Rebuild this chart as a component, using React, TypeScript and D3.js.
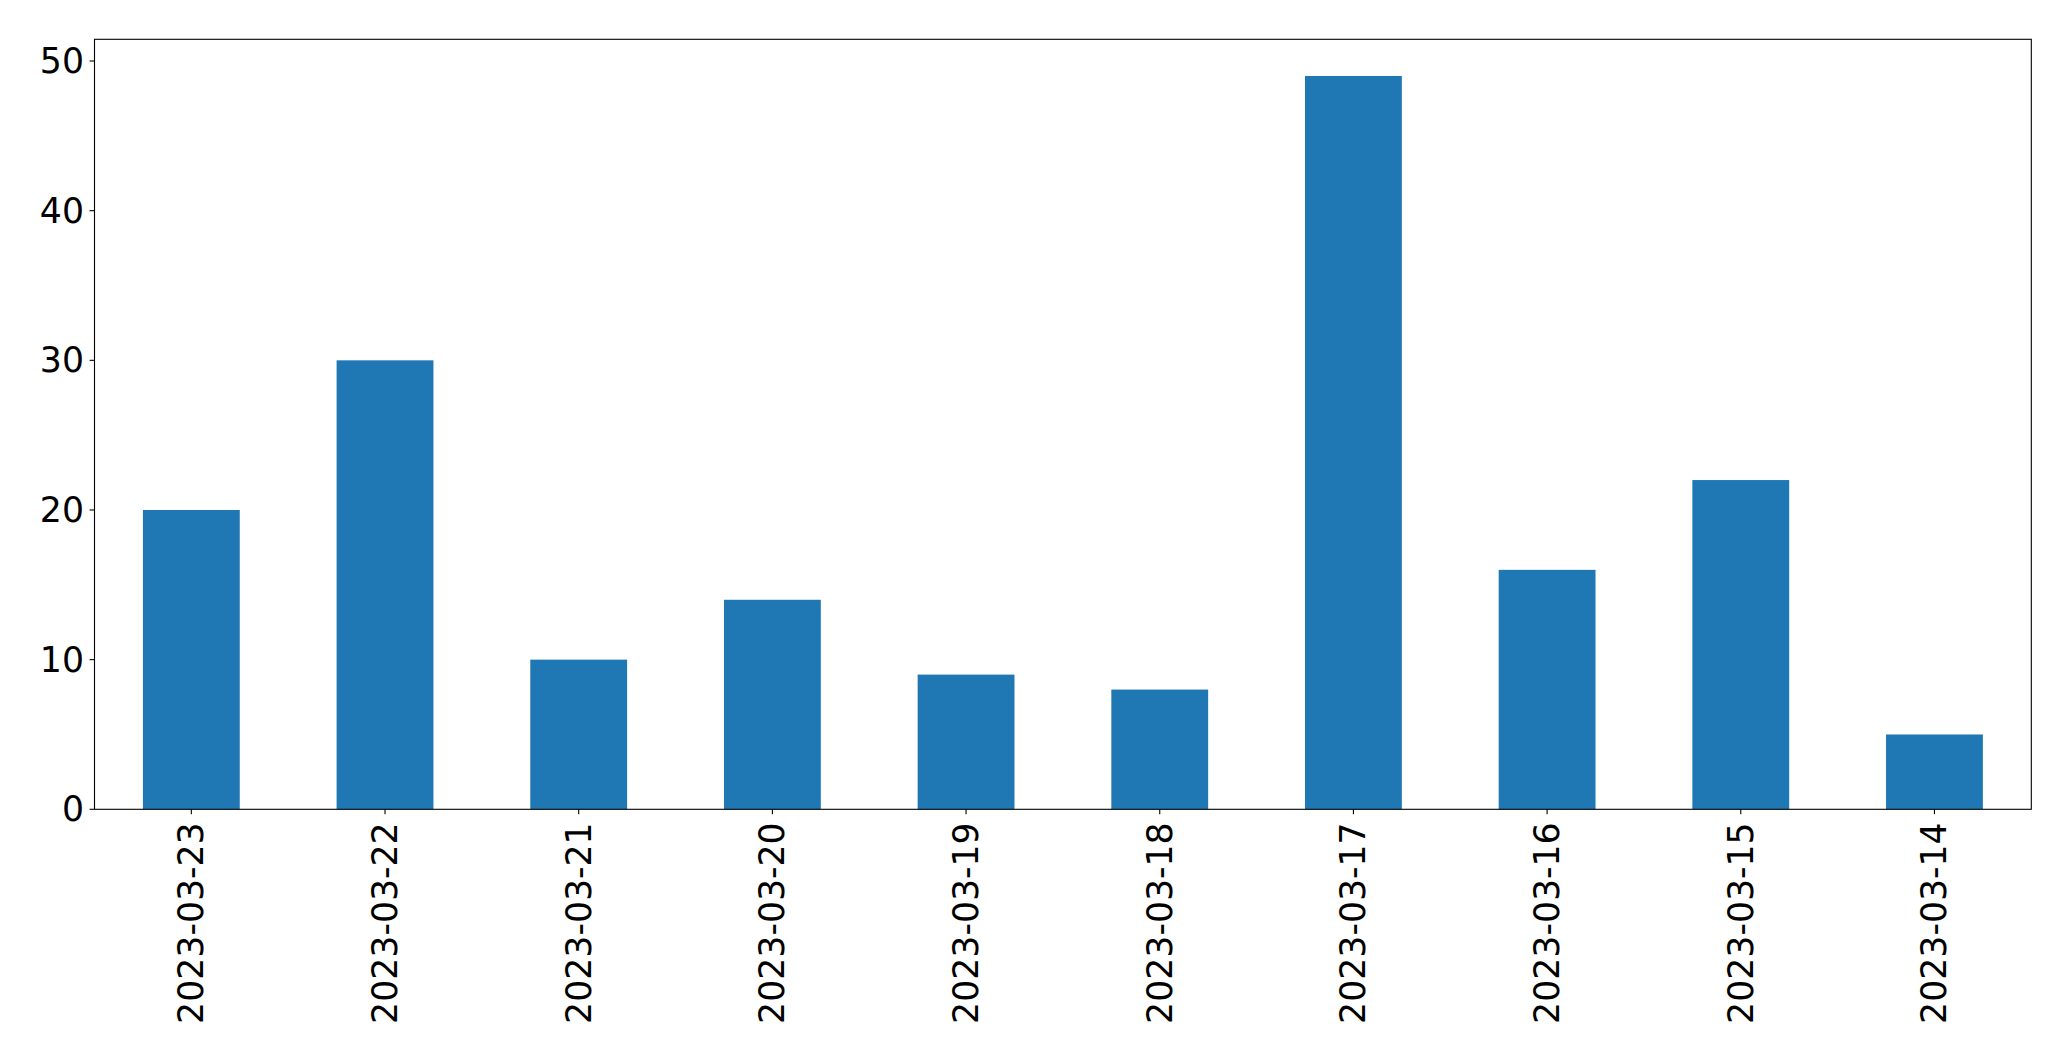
import React from "react";
import * as d3 from "d3";

const categories = [
  "2023-03-23", "2023-03-22", "2023-03-21", "2023-03-20", "2023-03-19",
  "2023-03-18", "2023-03-17", "2023-03-16", "2023-03-15", "2023-03-14",
];
const values = [20, 30, 10, 14, 9, 8, 49, 16, 22, 5];
const yTicks = [0, 10, 20, 30, 40, 50];

const W = 2071;
const H = 1061;
const left = 94.5;
const right = 2031.3;
const top = 39.3;
const bottom = 809.3;
const FONT = "DejaVu Sans, sans-serif";
const FS = 34.7;

export default function App() {
  const x = d3.scaleLinear().domain([-0.5, categories.length - 0.5]).range([left, right]);
  const yMax = d3.max(values)! * 1.05;
  const y = d3.scaleLinear().domain([0, yMax]).range([bottom, top]);
  const bw = x(0.25) - x(-0.25);

  return (
    <svg
      width={W}
      height={H}
      style={{ position: "absolute", left: 0, top: 0, background: "#fff" }}
      fontFamily={FONT}
    >
      <rect x={0} y={0} width={W} height={H} fill="#fff" />
      {values.map((v, i) => (
        <rect
          key={categories[i]}
          x={x(i) - bw / 2}
          y={y(v)}
          width={bw}
          height={y(0) - y(v)}
          fill="#1f77b4"
        />
      ))}
      <rect
        x={left}
        y={top}
        width={right - left}
        height={bottom - top}
        fill="none"
        stroke="#000"
        strokeWidth={1.1}
      />
      {yTicks.map((t) => (
        <g key={t}>
          <line x1={left - 4.9} x2={left} y1={y(t)} y2={y(t)} stroke="#000" strokeWidth={1.1} />
          <text
            x={left - 10.5}
            y={y(t)}
            textAnchor="end"
            dominantBaseline="central"
            fontSize={FS}
            fill="#000"
          >
            {t}
          </text>
        </g>
      ))}
      {categories.map((c, i) => (
        <g key={c}>
          <line x1={x(i)} x2={x(i)} y1={bottom} y2={bottom + 4.9} stroke="#000" strokeWidth={1.1} />
          <text
            transform={`translate(${x(i)},${bottom + 13}) rotate(-90)`}
            textAnchor="end"
            dominantBaseline="central"
            fontSize={FS}
            fill="#000"
          >
            {c}
          </text>
        </g>
      ))}
    </svg>
  );
}
